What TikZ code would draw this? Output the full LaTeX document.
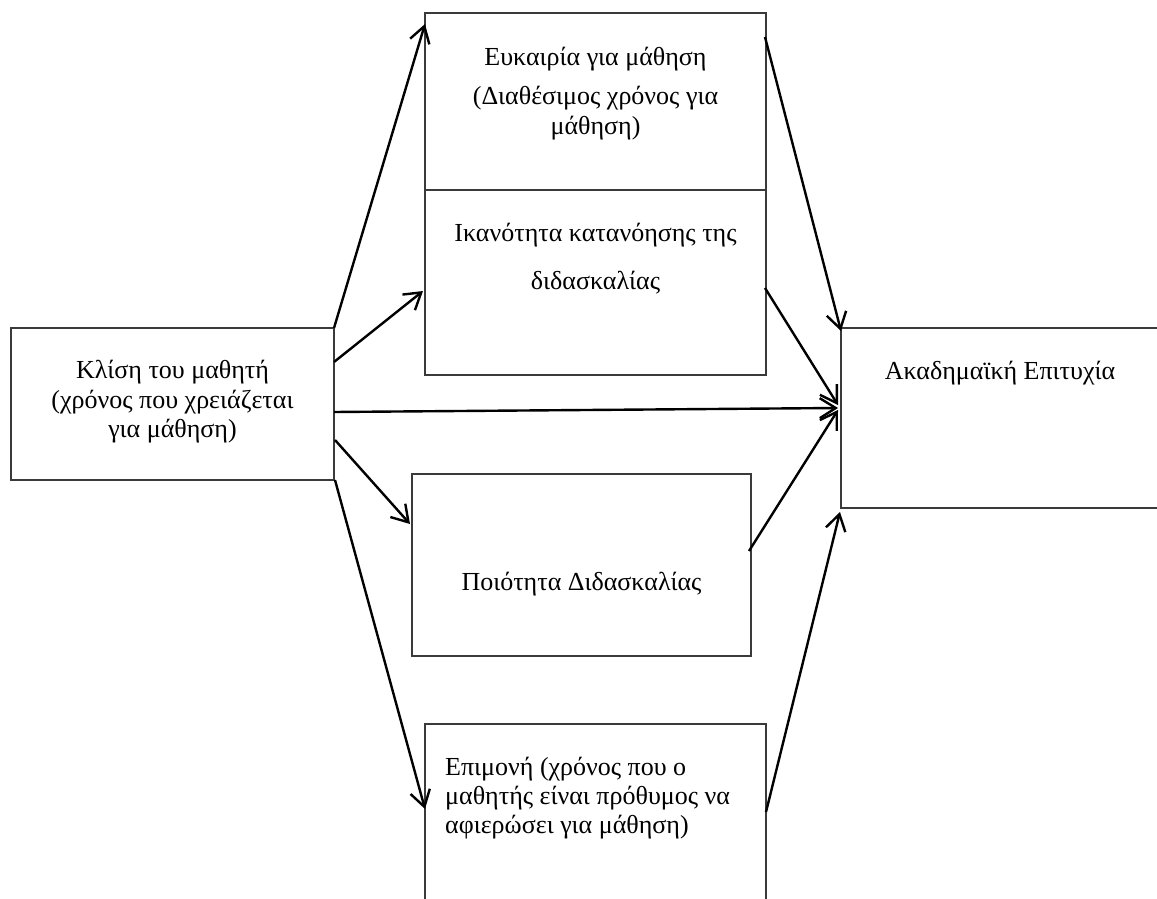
\documentclass[tikz,border=0pt]{standalone}
\usepackage{fontspec}
\setmainfont{Liberation Serif}
\usetikzlibrary{arrows.meta,calc}
\definecolor{boxgray}{HTML}{3A3A3A}
\begin{document}
\begin{tikzpicture}[x=1pt,y=-1pt,
  box/.style={draw=boxgray,line width=1.3pt,inner sep=0pt,outer sep=0pt,rectangle},
  openbox/.style={box,draw=none},
  edge/.style={draw=boxgray,line width=1.3pt},
  arr/.style={line width=2.4pt,black,-{Straight Barb[length=16pt,width=20pt]}},
  lbl/.style={font=\fontsize{26}{30}\selectfont,inner sep=0pt,anchor=base},
  lbll/.style={lbl,anchor=base west}]
\useasboundingbox (0,0) rectangle (1157,899);
\clip (0,0) rectangle (1157,899);

% boxes
\node[box,minimum width=323pt,minimum height=152pt] (kl) at (172.5,404) {};
\node[box,minimum width=341pt,minimum height=177pt] (ey) at (595.5,101.5) {};
\node[box,minimum width=341pt,minimum height=185pt] (ik) at (595.5,282.5) {};
\node[box,minimum width=339pt,minimum height=182pt] (po) at (581.5,565) {};
% the last two boxes run past the edge of the page: only their visible sides are drawn
\node[openbox,minimum width=341pt,minimum height=230pt] (ep) at (595.5,839) {};
\draw[edge] (ep.south west) -- (ep.north west) -- (ep.north east) -- (ep.south east);
\node[openbox,minimum width=400pt,minimum height=180pt] (ak) at (1041,418) {};
\draw[edge] (ak.north east) -- (ak.north west) -- (ak.south west) -- (ak.south east);

% texts
\node[lbl] (kl1) at (172.5,378) {Κλίση του μαθητή};
\node[lbl] (kl2) at (172.5,408) {(χρόνος που χρειάζεται};
\node[lbl] (kl3) at (172.5,437) {για μάθηση)};

\node[lbl] (ey1) at (595.5,66) {Ευκαιρία για μάθηση};
\node[lbl] (ey2) at (595.5,104) {(Διαθέσιμος χρόνος για};
\node[lbl] (ey3) at (595.5,134) {μάθηση)};

\node[lbl] (ik1) at (595.5,241) {Ικανότητα κατανόησης της};
\node[lbl] (ik2) at (595.5,289) {διδασκαλίας};

\node[lbl] (po1) at (581.5,590) {Ποιότητα Διδασκαλίας};

\node[lbll] (ep1) at (445,775) {Επιμονή (χρόνος που ο};
\node[lbll] (ep2) at (445,804) {μαθητής είναι πρόθυμος να};
\node[lbll] (ep3) at (445,833) {αφιερώσει για μάθηση)};

\node[lbl] (ak1) at (1000,379) {Ακαδημαϊκή Επιτυχία};

% connectors
\draw[arr] (kl.north east) -- ($(ey.north west)+(0,11)$);
\draw[arr] ($(kl.north east)+(0,34)$) -- ($(ik.north west)+(-2,101)$);
\draw[arr] ($(kl.north east)+(0,84)$) -- ($(ak.north west)+(-3,80)$);
\draw[arr] ($(kl.north east)+(1,112)$) -- ($(po.north west)+(-2,50)$);
\draw[arr] ($(kl.south east)+(1,0)$) -- ($(ep.north west)+(0,85)$);
\draw[arr] ($(ey.north east)+(-1,24)$) -- ($(ak.north west)+(0,3)$);
\draw[arr] ($(ik.north east)+(-1,98)$) -- ($(ak.north west)+(-3,77)$);
\draw[arr] ($(po.north east)+(-2,77)$) -- ($(ak.north west)+(-3,82)$);
\draw[arr] ($(ep.north east)+(0,88)$) -- ($(ak.south west)+(-1,4)$);
\end{tikzpicture}
\end{document}
